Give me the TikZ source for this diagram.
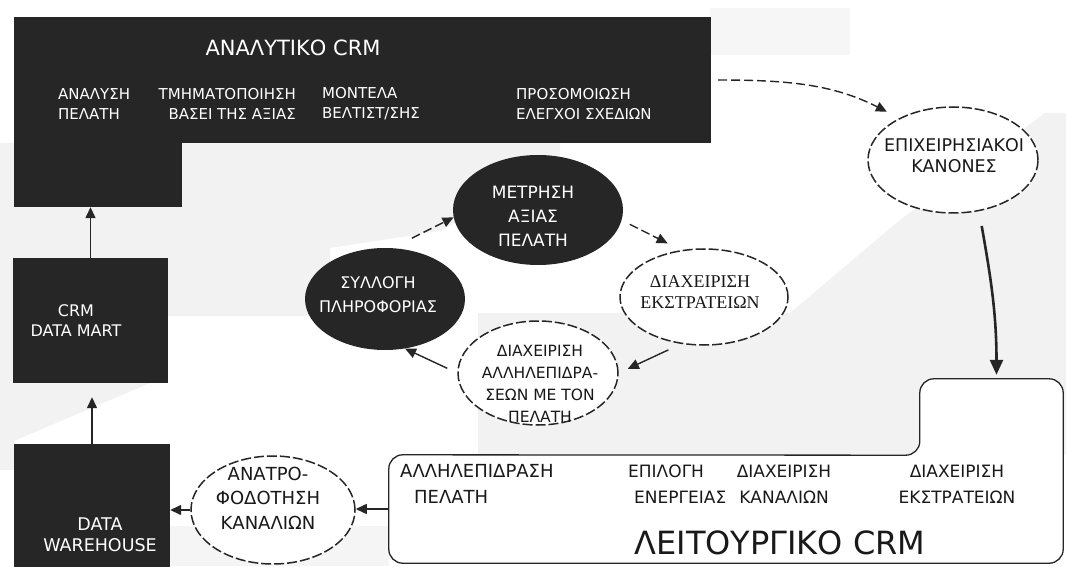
\documentclass[tikz,border=0pt]{standalone}
\usepackage{fontspec}
\setmainfont{DejaVu Sans}
\newfontfamily\grserif{Liberation Serif}
\usetikzlibrary{arrows.meta,shapes.geometric}
\newcommand\fsz[2]{\fontsize{#1}{#2}\selectfont}
\begin{document}
\begin{tikzpicture}[x=1pt,y=1pt,
  blk/.style={fill=black!85, draw=none, inner sep=0pt},
  wtxt/.style={text=white, align=center, inner sep=0pt},
  btxt/.style={text=black!90, align=center, inner sep=0pt},
  darkell/.style={ellipse, fill=black!85, draw=none, inner sep=0pt},
  dashell/.style={ellipse, fill=white, draw=black!85, line width=1.5pt, dash pattern=on 10pt off 3pt, inner sep=0pt},
  arr/.style={draw=black!85, line width=1.4pt, -{Triangle[length=11pt,width=10pt]}},
  darr/.style={arr, dash pattern=on 9pt off 4pt},
  bigarr/.style={draw=black!85, line width=2.6pt, -{Triangle[length=15pt,width=13pt]}},
  bg/.style={fill=gray!10, draw=none},
  opline/.style={draw=black!85, line width=1.3pt, fill=white, rounded corners=14pt},
]
\useasboundingbox (0,0) rectangle (1066,566);
\fill[white] (0,0) rectangle (1066,566);

% faint background texture
\fill[bg] (0,423) -- (560,423) -- (560,400) -- (440,335) -- (330,318) -- (330,250) -- (0,250) -- cycle;
\fill[bg] (0,96) rectangle (14,250);
\fill[bg] (14,183) -- (150,183) -- (14,125) -- cycle;
\fill[bg] (478,111) -- (478,253) -- (790,253) -- (900,346) -- (1045,453) -- (1066,453) -- (1066,111) -- cycle;
\fill[gray!7] (710,511) rectangle (850,558);
\fill[gray!8] (170,0) rectangle (389,40);

% analytic CRM (L shape)
\node[blk, minimum width=697pt, minimum height=126pt] (anatop) at (362.5,486) {};
\node[blk, minimum width=168pt, minimum height=190pt] (anacol) at (98,454) {};
\node[wtxt, font=\fsz{21}{25}] (anatitle) at (293,518) {ΑΝΑΛΥΤΙΚΟ CRM};
\node[wtxt, font=\fsz{15}{20}, anchor=west, align=left] (an1) at (58,462) {ΑΝΑΛΥΣΗ\\ΠΕΛΑΤΗ};
\node[wtxt, font=\fsz{15}{20}, anchor=east, align=right] (an2) at (296,462) {ΤΜΗΜΑΤΟΠΟΙΗΣΗ\\ΒΑΣΕΙ ΤΗΣ ΑΞΙΑΣ};
\node[wtxt, font=\fsz{15}{20}, anchor=west, align=left] (an3) at (322,462) {ΜΟΝΤΕΛΑ\\ΒΕΛΤΙΣΤ/ΣΗΣ};
\node[wtxt, font=\fsz{15}{20}, anchor=west, align=left] (an4) at (516,462) {ΠΡΟΣΟΜΟΙΩΣΗ\\ΕΛΕΓΧΟΙ ΣΧΕΔΙΩΝ};

% data mart and warehouse
\node[blk, minimum width=155pt, minimum height=125pt] (dm) at (90.5,245.5) {};
\node[wtxt, font=\fsz{16}{20}] (dmtxt) at (76,245) {CRM\\DATA MART};
\node[blk, minimum width=156pt, minimum height=124pt] (wh) at (92,60) {};
\node[wtxt, font=\fsz{17.5}{21}] (whtxt) at (100,31) {DATA\\WAREHOUSE};

% operational CRM box
\node[minimum width=674pt, minimum height=108pt, inner sep=0pt] (opmain) at (726,57) {};
\node[minimum width=143pt, minimum height=76pt, inner sep=0pt] (optab) at (991.5,149) {};
\draw[opline] (opmain.west) -- (opmain.north west) -- (optab.south west) -- (optab.north west)
  -- (optab.north east) -- (opmain.south east) -- (opmain.south west) -- cycle;
\node[btxt, font=\fsz{18}{26}, anchor=west, align=left] (o1) at (400,82) {ΑΛΛΗΛΕΠΙΔΡΑΣΗ\\\hspace*{14pt}ΠΕΛΑΤΗ};
\node[btxt, font=\fsz{17}{26}, anchor=west, align=left] (o2) at (628,82) {ΕΠΙΛΟΓΗ\\\hspace*{6pt}ΕΝΕΡΓΕΙΑΣ};
\node[btxt, font=\fsz{17}{26}] (o3) at (784,82) {ΔΙΑΧΕΙΡΙΣΗ\\ΚΑΝΑΛΙΩΝ};
\node[btxt, font=\fsz{17}{26}] (o4) at (957,82) {ΔΙΑΧΕΙΡΙΣΗ\\ΕΚΣΤΡΑΤΕΙΩΝ};
\node[btxt, font=\fsz{32}{36}] (optitle) at (780,23) {ΛΕΙΤΟΥΡΓΙΚΟ CRM};

% feedback ellipse
\node[dashell, minimum width=164pt, minimum height=108pt] (fb) at (273,56) {};
\node[btxt, font=\fsz{18}{24.5}] (fbtxt) at (268,68) {ΑΝΑΤΡΟ-\\ΦΟΔΟΤΗΣΗ\\ΚΑΝΑΛΙΩΝ};

% business rules ellipse
\node[dashell, minimum width=170pt, minimum height=106pt] (br) at (953,406) {};
\node[btxt, font=\fsz{17.5}{21}] (brtxt) at (954,410) {ΕΠΙΧΕΙΡΗΣΙΑΚΟΙ\\ΚΑΝΟΝΕΣ};

% cycle ellipses
\node[darkell, minimum width=170pt, minimum height=110pt] (met) at (538,356) {};
\node[wtxt, font=\fsz{17}{24}] (mettxt) at (533,350) {ΜΕΤΡΗΣΗ\\ΑΞΙΑΣ\\ΠΕΛΑΤΗ};
\node[darkell, minimum width=160pt, minimum height=102pt] (syl) at (385,267) {};
\node[wtxt, font=\fsz{16}{24}] (syltxt) at (378,271) {ΣΥΛΛΟΓΗ\\ΠΛΗΡΟΦΟΡΙΑΣ};
\node[dashell, minimum width=168pt, minimum height=96pt] (eks) at (704,269) {};
\node[btxt, font=\grserif\fsz{18}{21}] (ekstxt) at (700,274) {ΔΙΑΧΕΙΡΙΣΗ\\ΕΚΣΤΡΑΤΕΙΩΝ};
\node[dashell, minimum width=160pt, minimum height=104pt] (all) at (538,193) {};
\node[btxt, font=\fsz{15.5}{22}] (alltxt) at (540,182) {ΔΙΑΧΕΙΡΙΣΗ\\ΑΛΛΗΛΕΠΙΔΡΑ-\\ΣΕΩΝ ΜΕ ΤΟΝ\\ΠΕΛΑΤΗ};

% connectors
\draw[arr] (dm.north) -- (dm.north |- anacol.south);
\draw[arr, shorten >=14pt] (wh.north) -- (wh.north |- dm.south);
\draw[arr] (opmain.west) -- (opmain.west -| fb.east);
\draw[arr] (fb.west) -- (fb.west -| wh.east);
\draw[darr, shorten <=7pt, shorten >=14pt] (anatop.east) to[out=0, in=153] (br.142);
\draw[bigarr, shorten <=15pt, shorten >=4pt] (br.-63) to[out=-80, in=90] ([xshift=5pt]optab.north);
\draw[darr, shorten <=22pt] (syl.82) -- (met.185);
\draw[darr, shorten <=9pt, shorten >=15pt] (met.-7) -- (eks.116);
\draw[arr, shorten <=14pt, shorten >=10pt] (eks.244) -- (all.east);
\draw[arr, shorten <=11pt] (all.west) -- (syl.-68);
\end{tikzpicture}
\end{document}
